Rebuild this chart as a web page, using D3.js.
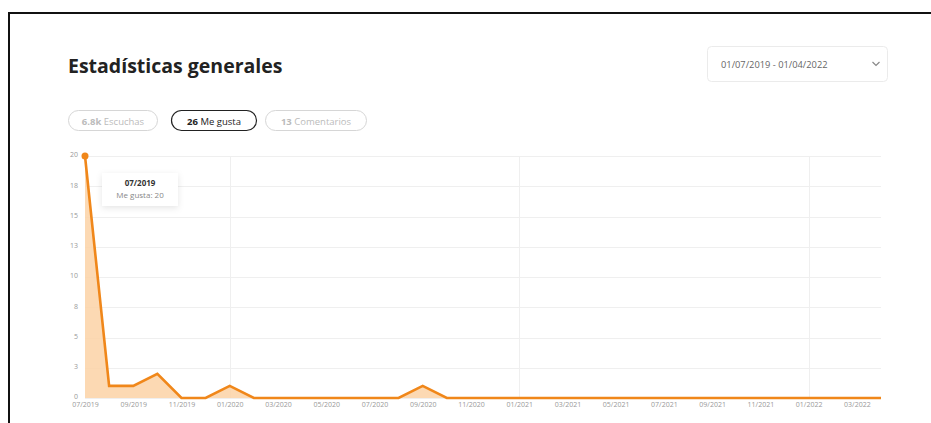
<!DOCTYPE html>
<html>
<head>
<meta charset="utf-8">
<script src="https://cdn.jsdelivr.net/npm/d3@7"></script>
<style>
  html, body { margin: 0; padding: 0; background: #fff; }
  body { width: 931px; height: 423px; overflow: hidden; font-family: "Open Sans", sans-serif; }
  svg { display: block; }
</style>
</head>
<body>
<svg id="chart" width="931" height="423"></svg>
<script>
// Monthly "Me gusta" counts, 07/2019 .. 04/2022
const months = [
  "07/2019","08/2019","09/2019","10/2019","11/2019","12/2019",
  "01/2020","02/2020","03/2020","04/2020","05/2020","06/2020",
  "07/2020","08/2020","09/2020","10/2020","11/2020","12/2020",
  "01/2021","02/2021","03/2021","04/2021","05/2021","06/2021",
  "07/2021","08/2021","09/2021","10/2021","11/2021","12/2021",
  "01/2022","02/2022","03/2022","04/2022"
];
const likes = [
  20, 1, 1, 2, 0, 0,
  1, 0, 0, 0, 0, 0,
  0, 0, 1, 0, 0, 0,
  0, 0, 0, 0, 0, 0,
  0, 0, 0, 0, 0, 0,
  0, 0, 0, 0
];
const yTicks = [0, 2.5, 5, 7.5, 10, 12.5, 15, 17.5, 20];
const xTickLabels = months.filter((m, i) => i % 2 === 0);
const yearStarts = ["01/2020", "01/2021", "01/2022"];
const tabs = [
  { num: "6.8k", label: "Escuchas", active: false },
  { num: "26", label: "Me gusta", active: true },
  { num: "13", label: "Comentarios", active: false }
];
const dateRange = "01/07/2019 - 01/04/2022";

const svg = d3.select("#chart");

// Panel frame (top and left edges)
svg.append("path")
  .attr("d", "M9,423 L9,13 L931,13")
  .attr("fill", "none").attr("stroke", "#111").attr("stroke-width", 2);

// Title
svg.append("text")
  .attr("x", 68).attr("y", 73)
  .attr("font-family", "Open Sans").attr("font-weight", 700)
  .attr("font-size", 19.5).attr("fill", "#222")
  .text("Estadísticas generales");

// Date range selector
const sel = svg.append("g");
sel.append("rect")
  .attr("x", 707.5).attr("y", 46.5).attr("width", 180).attr("height", 35).attr("rx", 4)
  .attr("fill", "#fff").attr("stroke", "#ebebeb");
sel.append("text")
  .attr("x", 721).attr("y", 68)
  .attr("font-size", 9.3).attr("fill", "#666")
  .text(dateRange);
sel.append("path")
  .attr("d", "M872.5,62 L876,65.5 L879.5,62")
  .attr("fill", "none").attr("stroke", "#888").attr("stroke-width", 1.2);

// Metric tabs
const tabX = [68, 171, 265];
const tabW = [89, 85, 101];
tabs.forEach((t, i) => {
  const g = svg.append("g");
  g.append("rect")
    .attr("x", tabX[i] + 0.5).attr("y", 110.5).attr("width", tabW[i]).attr("height", 20).attr("rx", 10)
    .attr("fill", "#fff")
    .attr("stroke", t.active ? "#222" : "#d6d6d6")
    .attr("stroke-width", t.active ? 1.2 : 1);
  const txt = g.append("text")
    .attr("x", tabX[i] + tabW[i] / 2 + 0.5).attr("y", 124.5)
    .attr("text-anchor", "middle").attr("font-size", 9.5)
    .attr("fill", t.active ? "#222" : "#bbb");
  txt.append("tspan").attr("font-weight", 700).text(t.num + " ");
  txt.append("tspan").text(t.label);
});

// Plot area
const x = d3.scalePoint().domain(months).range([85, 881]);
const y = d3.scaleLinear().domain([0, 20]).range([398, 156]);

// Horizontal grid
svg.append("g").selectAll("line").data(yTicks).join("line")
  .attr("x1", 85).attr("x2", 881)
  .attr("y1", d => Math.round(y(d)) + 0.5).attr("y2", d => Math.round(y(d)) + 0.5)
  .attr("stroke", "#efefef");

// Vertical grid at year starts
svg.append("g").selectAll("line").data(yearStarts).join("line")
  .attr("x1", d => Math.round(x(d)) + 0.5).attr("x2", d => Math.round(x(d)) + 0.5)
  .attr("y1", 156).attr("y2", 398)
  .attr("stroke", "#efefef");

// Y axis labels
const yAxis = d3.axisLeft(y).tickValues(yTicks).tickSize(0).tickPadding(0)
  .tickFormat(d => d3.format(".0f")(Math.round(d + 0.01)));
svg.append("g").attr("transform", "translate(78,-1.5)").call(yAxis)
  .call(g => g.select(".domain").remove())
  .call(g => g.selectAll("text").attr("font-family", "Open Sans").attr("font-size", 7).attr("fill", "#999"));

// X axis labels
const xAxis = d3.axisBottom(x).tickValues(xTickLabels).tickSize(0).tickPadding(0);
svg.append("g").attr("transform", "translate(0,402.5)").call(xAxis)
  .call(g => g.select(".domain").remove())
  .call(g => g.selectAll("text").attr("font-family", "Open Sans").attr("font-size", 7).attr("fill", "#999"));

const pts = months.map((m, i) => ({ m, v: likes[i] }));

// Area and line
svg.append("path").datum(pts)
  .attr("d", d3.area().x(d => x(d.m)).y0(y(0)).y1(d => y(d.v)))
  .attr("fill", "#fcd2a6").attr("opacity", 0.85);
svg.append("path").datum(pts)
  .attr("d", d3.line().x(d => x(d.m)).y(d => y(d.v)))
  .attr("fill", "none").attr("stroke", "#f0871a").attr("stroke-width", 2.6)
  .attr("stroke-linejoin", "miter");

// Hovered point
svg.append("circle")
  .attr("cx", x(months[0])).attr("cy", y(likes[0])).attr("r", 3.5)
  .attr("fill", "#f0871a");

// Tooltip
const defs = svg.append("defs");
const f = defs.append("filter").attr("id", "shadow").attr("x", "-30%").attr("y", "-40%").attr("width", "160%").attr("height", "200%");
f.append("feDropShadow").attr("dx", 0).attr("dy", 2).attr("stdDeviation", 3)
  .attr("flood-color", "#000").attr("flood-opacity", 0.1);
const tip = svg.append("g");
tip.append("rect")
  .attr("x", 102).attr("y", 173).attr("width", 76).attr("height", 33)
  .attr("fill", "#fff").attr("filter", "url(#shadow)");
tip.append("text")
  .attr("x", 140).attr("y", 186).attr("text-anchor", "middle")
  .attr("font-size", 8).attr("font-weight", 700).attr("fill", "#333")
  .text(months[0]);
tip.append("text")
  .attr("x", 140).attr("y", 198).attr("text-anchor", "middle")
  .attr("font-size", 8).attr("fill", "#888")
  .text("Me gusta: " + likes[0]);
</script>
</body>
</html>
